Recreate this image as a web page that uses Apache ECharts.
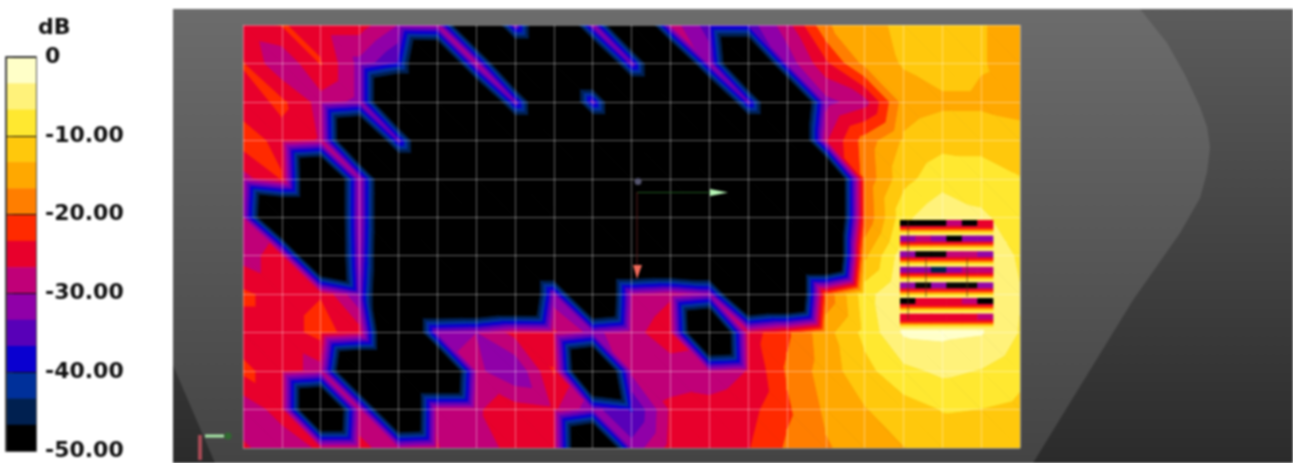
<!DOCTYPE html>
<html><head><meta charset="utf-8">
<style>html,body{margin:0;padding:0;background:#fff}#c{width:1293px;height:463px}#c canvas{filter:blur(.9px)}</style>
<script src="https://cdn.jsdelivr.net/npm/echarts@6/dist/echarts.min.js"></script>
</head><body><div id="c"></div>
<script>
// Level read at each mesh node (dB); B marks nodes well below the -50 dB floor.
const B = -72;
const row00 = [-24.5,-23,-25,-25,-30,-29,B,-32,B,-31,B,-28,-35,-35,-28,-17,-14.5,-12.5,-11,-13,-15];
const row01 = [-23,-29.5,-23,-31,-37,B,-29,B,B,B,-33,B,-31,B,-32,-24,-15.5,-13,-11.5,-13,-15];
const row02 = [-25,-22.5,-28,-31,B,B,B,-33,B,-34,B,B,B,-34,B,-31,-28,-15,-14,-14,-14.5];
const row03 = [-21.5,-24.5,-27,B,-34,B,B,B,B,B,B,B,B,B,B,-27,-18.5,-12.8,-11,-11,-12];
const row04 = [-28,-23,B,-30,B,B,B,B,B,B,B,B,B,B,B,-72,-19,-11,-8,-8.5,-9.8];
const row05 = [-30,B,B,-30,B,B,B,B,B,B,B,B,B,B,B,-72,-19.5,-7.5,-4,-6,-8.5];
const row06 = [-28,-25,B,-31,B,B,B,B,B,B,B,B,B,B,B,-72,-14,-4.5,-2,-4.5,-7];
const row07 = [-22.5,-25,-23.5,-33,B,B,B,B,-32,B,-29,-27,-31,B,B,-19,-8,-3,-1.5,-3.5,-6.5];
const row08 = [-25,-25,-22,-25,B,-31,-30,-25.5,-26,-31,-27.5,-25,B,-25,-20.5,-14.5,-9,-2.8,-2.5,-3,-6.8];
const row09 = [-22.5,-25,-28,B,B,B,-29,-33,-23,B,-29,-28,-28.5,-26.5,-19.5,-15,-11,-7.5,-5.9,-6.8,-9];
const row10 = [-29,-25,B,-28,B,-27,-27,-25,-26,-32,-37,-26,-25.5,-24.5,-20.5,-16,-13.5,-11.5,-9.8,-10,-10.8];
const row11 = [-26,-29,-26,-26,-28,-26.5,-29,-25,-25,B,-32,-25.5,-24.5,-23.5,-19.5,-17,-15,-13.4,-12,-11.5,-11.5];
const nodeRows = [row00,row01,row02,row03,row04,row05,row06,row07,row08,row09,row10,row11];

// Colour scale: 15 bands, from the top of the legend bar to its foot.
const bandColors = ['#FFFFC8','#FFF27A','#FFE830','#FFC80C','#FFA800','#FF7E00','#FF2A00','#E8002C','#C00078','#9000A8','#5800B8','#0A00D0','#00309A','#002050','#000000'];
const scaleTop = 0, scaleFoot = -50;
const unitLabel = 'dB';

// Radiating array: seven stripes, six sections across each (dB at the stripe's crest).
const stripe1 = [-48,-48,-48,-28,-47,-25];
const stripe2 = [-32,-27,-30,-47,-30,-31];
const stripe3 = [-33,-50,-47,-28,-28,-32];
const stripe4 = [-30,-30,-46,-30,-28,-27];
const stripe5 = [-31,-47,-32,-48,-47,-33];
const stripe6 = [-47,-25,-25,-25,-28,-47];
const stripe7 = [-26,-25,-24,-24,-24,-28];
const stripes = [stripe1,stripe2,stripe3,stripe4,stripe5,stripe6,stripe7];
const stripeFade = [null,null,null,-25,-21,-15,-9,-4];
// Feed wires behind the array: [mesh column, first mesh row, last mesh row]
const wires = [[17.12,5.07,7.67],[17.58,6.06,7.07],[18.64,6.06,7.07]];

const bandStep = (scaleTop-scaleFoot)/bandColors.length;
function colorOf(v){
  let k = Math.floor((scaleTop-v)/bandStep);
  return bandColors[Math.max(0,Math.min(bandColors.length-1,k))];
}
function clip(poly,level,keepAbove){
  const out=[];
  for(let a=0;a<poly.length;a++){
    const p=poly[a],q=poly[(a+1)%poly.length];
    const pin=keepAbove?p[2]>=level:p[2]<=level, qin=keepAbove?q[2]>=level:q[2]<=level;
    if(pin) out.push(p);
    if(pin!==qin){const t=(level-p[2])/(q[2]-p[2]);out.push([p[0]+t*(q[0]-p[0]),p[1]+t*(q[1]-p[1]),level]);}
  }
  return out;
}
const triangles=[];
for(let j=0;j<nodeRows.length-1;j++)for(let i=0;i<row00.length-1;i++){
  triangles.push([i,j,0]);triangles.push([i,j,1]);
}
function renderTriangle(params,api){
  const i=api.value(0),j=api.value(1),kind=api.value(2);
  const P=(x,y)=>[x,y,nodeRows[y][x]];
  const tri=kind===0?[P(i,j),P(i+1,j),P(i+1,j+1)]:[P(i,j),P(i+1,j+1),P(i,j+1)];
  const children=[];
  const lowest=-1e9;
  for(let b=0;b<bandColors.length;b++){
    const hi=scaleTop-b*bandStep;
    const lo=b===bandColors.length-1?lowest:hi-bandStep;
    let poly=clip(clip(tri,hi,false),lo,true);
    if(poly.length<3)continue;
    children.push({type:'polygon',shape:{points:poly.map(p=>api.coord([p[0],p[1]]))},
      style:{fill:bandColors[b],stroke:bandColors[b],lineWidth:1,lineJoin:'round'},silent:true});
  }
  return {type:'group',children};
}
const arrayLeft=16.91, arrayWidth=2.39, arrayTop=5.07, stripePitch=0.406;
const stripeCells=[];
stripes.forEach((s,r)=>s.forEach((v,c)=>stripeFade.forEach((f,k)=>stripeCells.push([r,c,k,f===null?v:f]))));
function renderStripe(params,api){
  const r=api.value(0),c=api.value(1),k=api.value(2),v=api.value(3);
  const w=arrayWidth/stripes[0].length,h=stripePitch/stripeFade.length;
  const a=api.coord([arrayLeft+c*w,arrayTop+r*stripePitch+k*h]);
  const b=api.coord([arrayLeft+(c+1)*w,arrayTop+r*stripePitch+(k+1)*h]);
  return {type:'rect',shape:{x:a[0],y:a[1],width:b[0]-a[0]+.5,height:b[1]-a[1]+.5},style:{fill:colorOf(v)},silent:true};
}
function renderWire(params,api){
  const a=api.coord([api.value(0),api.value(1)]),b=api.coord([api.value(0),api.value(2)]);
  return {type:'line',shape:{x1:a[0],y1:a[1],x2:b[0],y2:b[1]},style:{stroke:'rgba(90,50,20,.75)',lineWidth:1},silent:true};
}
function renderLegend(params,api){
  const k=api.value(0);
  const a=api.coord([0,scaleTop-k*bandStep]),b=api.coord([1,scaleTop-(k+1)*bandStep]);
  return {type:'rect',shape:{x:a[0],y:a[1],width:b[0]-a[0],height:b[1]-a[1]+.5},style:{fill:bandColors[k]},silent:true};
}
const chart=echarts.init(document.getElementById('c'),null,{renderer:'canvas'});
chart.setOption({
  animation:false,
  backgroundColor:'#ffffff',
  title:{text:unitLabel,left:33,top:12,textStyle:{fontFamily:'DejaVu Sans',fontWeight:'bold',fontSize:22,color:'#111'}},
  grid:[{left:243,top:25,width:777,height:423},{left:6,top:57,width:30,height:394}],
  xAxis:[
    {type:'value',gridIndex:0,min:0,max:20,interval:1,z:6,axisLine:{show:false},axisTick:{show:false},axisLabel:{show:false},
     splitLine:{show:true,lineStyle:{color:'rgba(255,255,255,.4)',width:1}}},
    {type:'value',gridIndex:1,min:0,max:1,axisLine:{show:false},axisTick:{show:false},axisLabel:{show:false},splitLine:{show:false}}
  ],
  yAxis:[
    {type:'value',gridIndex:0,min:0,max:11,interval:1,inverse:true,z:6,axisLine:{show:false},axisTick:{show:false},axisLabel:{show:false},
     splitLine:{show:true,lineStyle:{color:'rgba(255,255,255,.4)',width:1}}},
    {type:'value',gridIndex:1,min:scaleFoot,max:scaleTop,interval:10,position:'right',z:6,
     axisLine:{show:true,lineStyle:{color:'#333',width:1}},
     axisTick:{show:true,length:7,lineStyle:{color:'#222',width:1}},
     splitLine:{show:true,lineStyle:{color:'#111',width:1}},
     axisLabel:{margin:9,fontFamily:'DejaVu Sans',fontWeight:'bold',fontSize:22,color:'#111',
       formatter:v=>v===0?'0':v.toFixed(2)}}
  ],
  series:[
    {type:'custom',name:'field',xAxisIndex:0,yAxisIndex:0,coordinateSystem:'cartesian2d',data:triangles,renderItem:renderTriangle,clip:true,z:2,encode:{x:0,y:1},silent:true},
    {type:'custom',name:'array',xAxisIndex:0,yAxisIndex:0,coordinateSystem:'cartesian2d',data:stripeCells,renderItem:renderStripe,z:8,encode:{x:1,y:0},silent:true},
    {type:'custom',name:'wires',xAxisIndex:0,yAxisIndex:0,coordinateSystem:'cartesian2d',data:wires,renderItem:renderWire,z:9,encode:{x:0,y:1},silent:true},
    {type:'custom',name:'scale',xAxisIndex:1,yAxisIndex:1,coordinateSystem:'cartesian2d',data:bandColors.map((c,k)=>[k]),renderItem:renderLegend,z:2,silent:true,encode:{y:0}}
  ],
  graphic:[
    {type:'rect',z:-20,shape:{x:173,y:9,width:1120,height:454},style:{fill:new echarts.graphic.LinearGradient(0,0,0,1,[{offset:0,color:'#5c5c5c'},{offset:1,color:'#2b2b2b'}])},silent:true},
    {type:'polygon',z:-19,shape:{points:[[173,9],[1140,9],[1167,43],[1185,75],[1200,107],[1207,127],[1210,147],[1207,172],[1200,198],[1180,233],[1133,300],[1033,463],[215,463],[173,365]]},
      style:{fill:new echarts.graphic.LinearGradient(0,0,0,1,[{offset:0,color:'#6c6c6c'},{offset:1,color:'#444444'}])},silent:true},
    {type:'rect',z:50,shape:{x:5.5,y:56.5,width:31,height:395},style:{fill:'none',stroke:'#555',lineWidth:1},silent:true},
    {type:'line',z:50,shape:{x1:637,y1:192.5,x2:712,y2:192.5},style:{stroke:'#1f5a1f',lineWidth:1},silent:true},
    {type:'polygon',z:50,shape:{points:[[710,189],[728,192.5],[710,196]]},style:{fill:'#b5f5b5'},silent:true},
    {type:'line',z:50,shape:{x1:637,y1:192,x2:637,y2:265},style:{stroke:'#5a1a1a',lineWidth:1},silent:true},
    {type:'polygon',z:50,shape:{points:[[633,265],[642,265],[637,279]]},style:{fill:'#f06a5a'},silent:true},
    {type:'circle',z:50,shape:{cx:638,cy:181.5,r:3.5},style:{fill:'#55556e'},silent:true},
    {type:'line',z:50,shape:{x1:205,y1:436,x2:224,y2:436},style:{stroke:'#a8e8a8',lineWidth:3},silent:true},
    {type:'circle',z:50,shape:{cx:228,cy:436,r:3.5},style:{fill:'#2f6a2f'},silent:true},
    {type:'line',z:50,shape:{x1:200,y1:435,x2:200,y2:460},style:{stroke:'#a84a55',lineWidth:4},silent:true}
  ]
});
</script></body></html>
